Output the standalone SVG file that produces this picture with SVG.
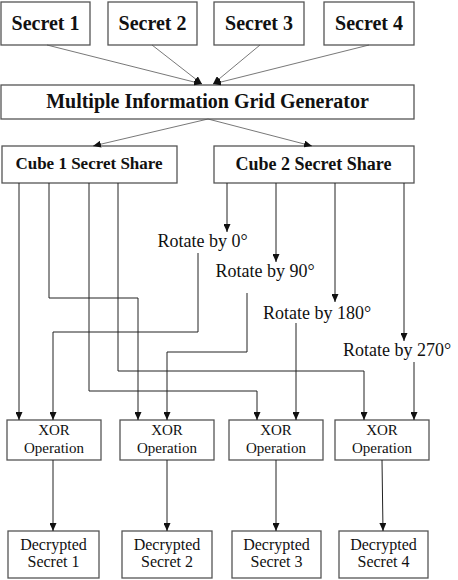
<svg xmlns="http://www.w3.org/2000/svg" width="458" height="580" viewBox="0 0 458 580">
<style>
.box{fill:#fff;stroke:#555;stroke-width:1.3}
.b{font-family:"Liberation Serif",serif;font-weight:bold;fill:#111;text-anchor:middle}
.r{font-family:"Liberation Serif",serif;fill:#111;text-anchor:middle}
.c{fill:none;stroke:#222;stroke-width:1}
.t{fill:none;stroke:#555;stroke-width:0.8}
</style>
<defs>
<marker id="ah" markerUnits="userSpaceOnUse" markerWidth="8" markerHeight="7" refX="8" refY="3.5" orient="auto">
<path d="M0,0 L8,3.5 L0,7 z" fill="#111"/>
</marker>
</defs>
<rect width="458" height="580" fill="#fff"/>
<g id="secret1"><rect class="box" x="1" y="2" width="89" height="43"/><text class="b" x="45.5" y="30" font-size="20">Secret 1</text></g>
<g id="secret2"><rect class="box" x="108" y="2" width="89" height="43"/><text class="b" x="152.5" y="30" font-size="20">Secret 2</text></g>
<g id="secret3"><rect class="box" x="214" y="2" width="90" height="43"/><text class="b" x="259" y="30" font-size="20">Secret 3</text></g>
<g id="secret4"><rect class="box" x="324" y="2" width="90" height="43"/><text class="b" x="369" y="30" font-size="20">Secret 4</text></g>
<g id="migg"><rect class="box" x="1" y="85" width="413" height="34"/><text class="b" x="207.5" y="108" font-size="20">Multiple Information Grid Generator</text></g>
<g id="cube1"><rect class="box" x="2" y="146" width="175" height="37"/><text class="b" x="89" y="169" font-size="17">Cube 1 Secret Share</text></g>
<g id="cube2"><rect class="box" x="214" y="146" width="200" height="37"/><text class="b" x="313.5" y="170" font-size="18">Cube 2 Secret Share</text></g>
<g id="rot0"><text class="r" x="202.5" y="247" font-size="18">Rotate by 0°</text></g>
<g id="rot90"><text class="r" x="265" y="277" font-size="18">Rotate by 90°</text></g>
<g id="rot180"><text class="r" x="317" y="319" font-size="18">Rotate by 180°</text></g>
<g id="rot270"><text class="r" x="397" y="356" font-size="18">Rotate by 270°</text></g>
<g id="xor1"><rect class="box" x="7" y="420" width="94" height="40"/><text class="r" x="54" y="435" font-size="15">XOR</text><text class="r" x="54" y="453" font-size="15">Operation</text></g>
<g id="xor2"><rect class="box" x="120" y="420" width="94" height="40"/><text class="r" x="167" y="435" font-size="15">XOR</text><text class="r" x="167" y="453" font-size="15">Operation</text></g>
<g id="xor3"><rect class="box" x="229" y="420" width="94" height="40"/><text class="r" x="276" y="435" font-size="15">XOR</text><text class="r" x="276" y="453" font-size="15">Operation</text></g>
<g id="xor4"><rect class="box" x="335" y="420" width="94" height="40"/><text class="r" x="382" y="435" font-size="15">XOR</text><text class="r" x="382" y="453" font-size="15">Operation</text></g>
<g id="dec1"><rect class="box" x="8" y="531" width="91" height="47"/><text class="r" x="53.5" y="550" font-size="16">Decrypted</text><text class="r" x="53.5" y="567" font-size="16">Secret 1</text></g>
<g id="dec2"><rect class="box" x="122" y="531" width="90" height="47"/><text class="r" x="167" y="550" font-size="16">Decrypted</text><text class="r" x="167" y="567" font-size="16">Secret 2</text></g>
<g id="dec3"><rect class="box" x="232" y="531" width="89" height="47"/><text class="r" x="276.5" y="550" font-size="16">Decrypted</text><text class="r" x="276.5" y="567" font-size="16">Secret 3</text></g>
<g id="dec4"><rect class="box" x="339" y="531" width="89" height="47"/><text class="r" x="383.5" y="550" font-size="16">Decrypted</text><text class="r" x="383.5" y="567" font-size="16">Secret 4</text></g>
<g id="connectors">
<path class="t" d="M47,45 L202,84" marker-end="url(#ah)"/>
<path class="t" d="M152,45 L202,84" marker-end="url(#ah)"/>
<path class="t" d="M260,45 L213,84" marker-end="url(#ah)"/>
<path class="t" d="M369,45 L213,84" marker-end="url(#ah)"/>
<path class="t" d="M208,119 L93,146" marker-end="url(#ah)"/>
<path class="t" d="M208,119 L312,146" marker-end="url(#ah)"/>
<path class="c" d="M227,183 V232" marker-end="url(#ah)"/>
<path class="c" d="M276,183 V262" marker-end="url(#ah)"/>
<path class="c" d="M335,183 V302" marker-end="url(#ah)"/>
<path class="c" d="M404,183 V341" marker-end="url(#ah)"/>
<path class="c" d="M19,183 V420" marker-end="url(#ah)"/>
<path class="c" d="M198,253 V332 H53 V420" marker-end="url(#ah)"/>
<path class="c" d="M49,183 V298 H138 V420" marker-end="url(#ah)"/>
<path class="c" d="M247,293 V352 H167 V420" marker-end="url(#ah)"/>
<path class="c" d="M89,183 V391 H257 V420" marker-end="url(#ah)"/>
<path class="c" d="M296,323 V420" marker-end="url(#ah)"/>
<path class="c" d="M118,183 V371 H364 V420" marker-end="url(#ah)"/>
<path class="c" d="M414,362 V420" marker-end="url(#ah)"/>
<path class="c" d="M53,460 V531" marker-end="url(#ah)"/>
<path class="c" d="M167,460 V531" marker-end="url(#ah)"/>
<path class="c" d="M276,460 V531" marker-end="url(#ah)"/>
<path class="c" d="M382,460 L383,531" marker-end="url(#ah)"/>
</g>
</svg>
